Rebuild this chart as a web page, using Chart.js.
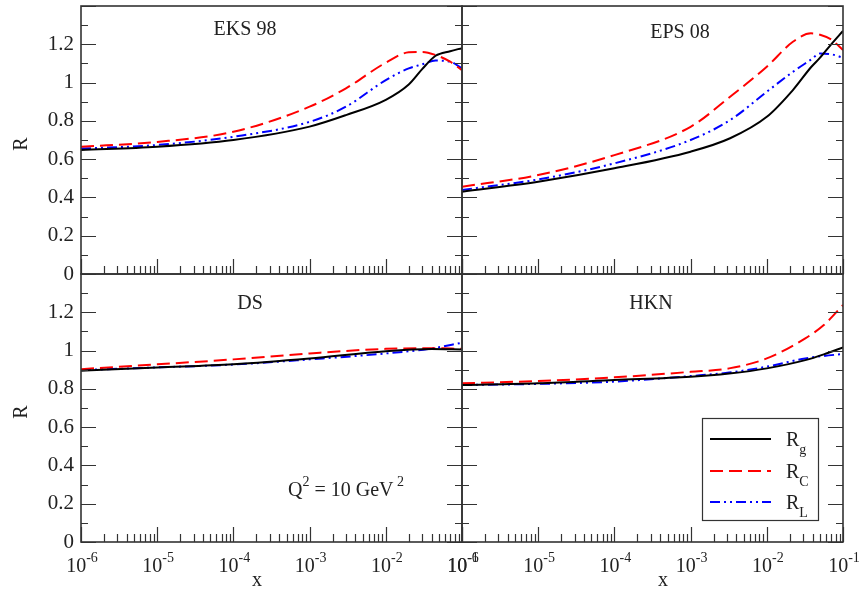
<!DOCTYPE html>
<html>
<head>
<meta charset="utf-8">
<script src="https://cdn.jsdelivr.net/npm/chart.js@4.4.1/dist/chart.umd.min.js"></script>
<style>
  body { margin: 0; background: #fff; }
  #wrap { position: relative; width: 860px; height: 590px; }
  #wrap canvas { position: absolute; left: 0; top: 0; }
</style>
</head>
<body>
<div id="wrap">
  <canvas id="eks" width="860" height="590"></canvas>
  <canvas id="eps" width="860" height="590"></canvas>
  <canvas id="ds" width="860" height="590"></canvas>
  <canvas id="hkn" width="860" height="590"></canvas>
</div>
<script>
// EKS 98
const x_eks  = [1e-6, 1e-5, 1e-4, 1e-3, 3e-3, 1e-2, 2e-2, 3e-2, 4.5e-2, 7e-2, 1e-1];
const rg_eks = [0.648, 0.665, 0.70, 0.77, 0.83, 0.91, 0.99, 1.07, 1.14, 1.164, 1.18];
const rc_eks = [0.665, 0.69, 0.743, 0.874, 0.97, 1.104, 1.158, 1.16, 1.144, 1.109, 1.065];
const rl_eks = [0.655, 0.674, 0.717, 0.795, 0.874, 1.013, 1.074, 1.095, 1.115, 1.109, 1.074];

// EPS 08
const x_eps  = [1e-6, 1e-5, 1e-4, 1e-3, 3.3e-3, 1e-2, 2.2e-2, 3.8e-2, 5e-2, 7e-2, 1e-1];
const rg_eps = [0.43, 0.482, 0.552, 0.639, 0.709, 0.821, 0.961, 1.08, 1.13, 1.2, 1.27];
const rc_eps = [0.456, 0.517, 0.621, 0.769, 0.926, 1.083, 1.213, 1.257, 1.25, 1.225, 1.17];
const rl_eps = [0.439, 0.494, 0.578, 0.70, 0.804, 0.952, 1.056, 1.12, 1.152, 1.148, 1.13];

// DS
const x_ds  = [1e-6, 1e-5, 1e-4, 1e-3, 1e-2, 4e-2, 1e-1];
const rg_ds = [0.895, 0.912, 0.929, 0.959, 0.997, 1.008, 1.006];
const rc_ds = [0.903, 0.928, 0.954, 0.985, 1.009, 1.012, 1.009];
const rl_ds = [0.898, 0.912, 0.927, 0.954, 0.985, 1.011, 1.041];

// HKN
const x_hkn  = [1e-6, 1e-5, 1e-4, 1e-3, 3.2e-3, 1e-2, 3.2e-2, 5.6e-2, 1e-1];
const rg_hkn = [0.82, 0.829, 0.846, 0.863, 0.88, 0.907, 0.95, 0.98, 1.017];
const rc_hkn = [0.829, 0.841, 0.86, 0.889, 0.907, 0.959, 1.064, 1.133, 1.238];
const rl_hkn = [0.82, 0.826, 0.838, 0.867, 0.885, 0.916, 0.959, 0.972, 0.982];

const decades = [-6, -5, -4, -3, -2, -1];
const yTicks = [0, 0.2, 0.4, 0.6, 0.8, 1, 1.2];
const seriesNames = [['R', 'g'], ['R', 'C'], ['R', 'L']];

const FONT = '"Liberation Serif", "DejaVu Serif", serif';
const INK = '#222';

const styles = [
  { borderColor: '#000', borderDash: [] },
  { borderColor: '#ff0000', borderDash: [13, 6] },
  { borderColor: '#0000ff', borderDash: [10, 4, 2, 4, 2, 4] }
];

function pts(xs, ys) {
  return xs.map((v, i) => ({ x: v, y: ys[i] }));
}

// text with superscript / subscript pieces: [[text, size, dy], ...]
function drawPieces(ctx, pieces, x, y, align) {
  let w = 0;
  pieces.forEach(p => { ctx.font = p[1] + 'px ' + FONT; w += ctx.measureText(p[0]).width; });
  let cx = align === 'center' ? x - w / 2 : x;
  ctx.textAlign = 'left';
  ctx.textBaseline = 'alphabetic';
  pieces.forEach(p => {
    ctx.font = p[1] + 'px ' + FONT;
    ctx.fillText(p[0], cx, y + p[2]);
    cx += ctx.measureText(p[0]).width;
  });
}

const panelDeco = {
  id: 'panelDeco',
  afterDatasetsDraw(chart, args, o) {
    const { ctx, chartArea: a, scales: { x, y } } = chart;
    ctx.save();
    ctx.strokeStyle = '#333';
    ctx.lineWidth = 1.2;
    ctx.beginPath();
    decades.forEach(k => {
      for (let m = 1; m <= 9; m++) {
        if (k === -1 && m > 1) break;
        const px = Math.round(x.getPixelForValue(m * Math.pow(10, k))) + 0.5;
        const len = m === 1 ? 15 : 8;
        ctx.moveTo(px, a.bottom);
        ctx.lineTo(px, a.bottom - len);
      }
    });
    for (let i = 0; i <= 14; i++) {
      const py = Math.round(y.getPixelForValue(i / 10)) + 0.5;
      const len = i % 2 === 0 ? 15 : 7;
      ctx.moveTo(a.left, py); ctx.lineTo(a.left + len, py);
      ctx.moveTo(a.right, py); ctx.lineTo(a.right - len, py);
    }
    ctx.stroke();
    ctx.lineWidth = 1.6;
    ctx.strokeRect(a.left, a.top, a.right - a.left, a.bottom - a.top);

    ctx.fillStyle = INK;
    ctx.font = '20px ' + FONT;
    ctx.textAlign = 'center';
    ctx.textBaseline = 'middle';
    ctx.fillText(o.title, o.tx, o.ty);

    if (o.yTitle) {
      ctx.save();
      ctx.translate(22, (a.top + a.bottom) / 2 + 4);
      ctx.rotate(-Math.PI / 2);
      ctx.font = '20px ' + FONT;
      ctx.textAlign = 'center';
      ctx.textBaseline = 'middle';
      ctx.fillText('R', 0, 0);
      ctx.restore();
    }
    if (o.xLabels) {
      decades.forEach(k => {
        const px = x.getPixelForValue(Math.pow(10, k));
        drawPieces(ctx, [['10', 20, 0], [String(k), 14, -10]], px + 1, 572, 'center');
      });
      ctx.font = '20px ' + FONT;
      ctx.textAlign = 'center';
      ctx.textBaseline = 'alphabetic';
      ctx.fillText('x', o.xx, 586);
    }
    if (o.q2) {
      drawPieces(ctx, [['Q', 20, 0], ['2', 14, -10], [' = 10 GeV', 20, 0], [' 2', 14, -10]], 288, 496, 'left');
    }
    if (o.legend) {
      ctx.lineWidth = 1.2;
      ctx.strokeStyle = '#333';
      ctx.strokeRect(702.5, 418.5, 116, 102);
      const rows = [439, 471, 502];
      chart.data.datasets.forEach((ds, i) => {
        ctx.save();
        ctx.strokeStyle = ds.borderColor;
        ctx.lineWidth = 2.2;
        ctx.setLineDash(ds.borderDash);
        ctx.beginPath();
        ctx.moveTo(710, rows[i]);
        ctx.lineTo(771, rows[i]);
        ctx.stroke();
        ctx.restore();
        ctx.fillStyle = INK;
        drawPieces(ctx, [[seriesNames[i][0], 20, 0], [seriesNames[i][1], 14, 8]], 786, rows[i] + 3 + 4, 'left');
      });
    }
    ctx.restore();
  }
};

function fixAxis(s, w, h) {
  if (w !== null) s.width = w;
  if (h !== null) s.height = h;
  s.paddingTop = 0;
  s.paddingBottom = 0;
  s.paddingLeft = 0;
  s.paddingRight = 0;
}

function makePanel(id, xs, series, cfg) {
  return new Chart(document.getElementById(id), {
    type: 'line',
    data: {
      datasets: series.map((ys, i) => ({
        label: seriesNames[i].join(''),
        data: pts(xs, ys),
        borderColor: styles[i].borderColor,
        borderDash: styles[i].borderDash,
        borderWidth: 2,
        pointRadius: 0,
        fill: false,
        cubicInterpolationMode: 'monotone'
      }))
    },
    options: {
      responsive: false,
      animation: false,
      events: [],
      layout: { padding: cfg.pad },
      plugins: {
        legend: { display: false },
        tooltip: { enabled: false },
        panelDeco: cfg.deco
      },
      scales: {
        x: {
          type: 'logarithmic',
          min: 1e-6,
          max: 1e-1,
          grid: { display: false, drawTicks: false },
          border: { display: false },
          ticks: { display: false },
          afterFit: s => fixAxis(s, null, cfg.xh)
        },
        y: {
          min: 0,
          max: 1.4,
          grid: { display: false, drawTicks: false },
          border: { display: false },
          ticks: {
            display: cfg.yLabels,
            stepSize: 0.2,
            autoSkip: false,
            padding: 7,
            color: INK,
            font: { family: FONT, size: 21 },
            callback: v => (yTicks.some(t => Math.abs(t - v) < 1e-6) ? String(Number(v.toFixed(1))) : '')
          },
          afterFit: s => fixAxis(s, cfg.yw, null)
        }
      }
    },
    plugins: [panelDeco]
  });
}

makePanel('eks', x_eks, [rg_eks, rc_eks, rl_eks], {
  pad: { left: 0, right: 398, top: 6, bottom: 316 }, xh: 0, yw: 81, yLabels: true,
  deco: { title: 'EKS 98', tx: 245, ty: 30, yTitle: true }
});
makePanel('eps', x_eps, [rg_eps, rc_eps, rl_eps], {
  pad: { left: 462, right: 17, top: 6, bottom: 316 }, xh: 0, yw: 0, yLabels: false,
  deco: { title: 'EPS 08', tx: 680, ty: 33 }
});
makePanel('ds', x_ds, [rg_ds, rc_ds, rl_ds], {
  pad: { left: 0, right: 398, top: 274, bottom: 0 }, xh: 48, yw: 81, yLabels: true,
  deco: { title: 'DS', tx: 250, ty: 304, yTitle: true, xLabels: true, xx: 257, q2: true }
});
makePanel('hkn', x_hkn, [rg_hkn, rc_hkn, rl_hkn], {
  pad: { left: 462, right: 17, top: 274, bottom: 0 }, xh: 48, yw: 0, yLabels: false,
  deco: { title: 'HKN', tx: 651, ty: 304, xLabels: true, xx: 663, legend: true }
});
</script>
</body>
</html>
